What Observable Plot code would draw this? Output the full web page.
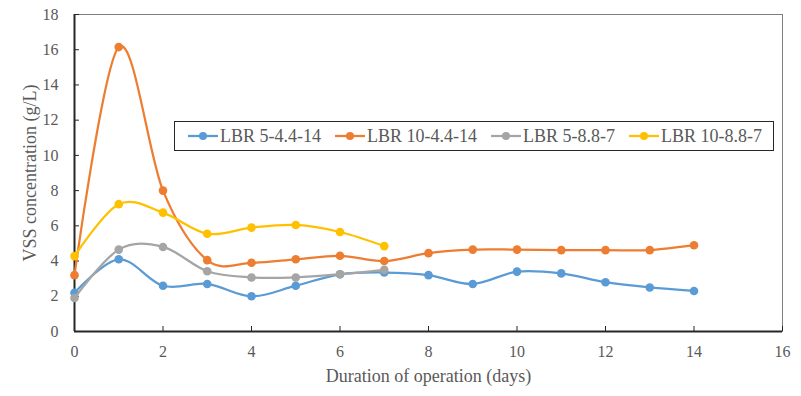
<!DOCTYPE html>
<html><head><meta charset="utf-8">
<script src="https://cdn.jsdelivr.net/npm/d3@7"></script>
<script src="https://cdn.jsdelivr.net/npm/@observablehq/plot@0.6"></script>
<style>
body{margin:0;background:#fff;}
#wrap{position:relative;width:801px;height:396px;}
#wrap svg text{font-family:"Liberation Serif","Times New Roman",serif;}
#legend{position:absolute;left:174px;top:121px;width:600px;height:30px;box-sizing:border-box;border:1.5px solid #262626;background:#fff;display:flex;align-items:center;font-family:"Liberation Serif","Times New Roman",serif;font-size:18px;color:#595959;padding-left:13px;white-space:nowrap;}
.item{display:flex;align-items:center;margin-right:14px;}
.item svg{margin-right:2px;}
</style></head>
<body><div id="wrap"><div id="legend"></div></div>
<script>
const seriesNames = ["LBR 5-4.4-14", "LBR 10-4.4-14", "LBR 5-8.8-7", "LBR 10-8.8-7"];
const seriesColors = ["#5B9BD5", "#ED7D31", "#A5A5A5", "#FFC000"];
const daysLong = [0,1,2,3,4,5,6,7,8,9,10,11,12,13,14];
const daysShort = [0,1,2,3,4,5,6,7];
const lbr5_44_14 = [2.2,4.1,2.6,2.7,2.0,2.6,3.25,3.35,3.2,2.7,3.4,3.3,2.8,2.5,2.3];
const lbr10_44_14 = [3.2,16.15,8.0,4.05,3.9,4.1,4.3,4.0,4.45,4.65,4.65,4.62,4.62,4.62,4.9];
const lbr5_88_7 = [1.9,4.65,4.8,3.42,3.07,3.07,3.25,3.5];
const lbr10_88_7 = [4.28,7.23,6.75,5.55,5.9,6.05,5.65,4.85];
const xTicks = [0,2,4,6,8,10,12,14,16];
const yTicks = [0,2,4,6,8,10,12,14,16,18];
const xTitle = "Duration of operation (days)";
const yTitle = "VSS concentration (g/L)";

const seriesValues = [lbr5_44_14, lbr10_44_14, lbr5_88_7, lbr10_88_7];
const seriesDays = [daysLong, daysLong, daysShort, daysShort];
const rows = [];
seriesNames.forEach((name, i) => {
  seriesValues[i].forEach((v, j) => rows.push({series: name, day: seriesDays[i][j], value: v}));
});

const seriesMarks = seriesNames.flatMap((name, i) => {
  const d = rows.filter(r => r.series === name);
  return [
    Plot.line(d, {x: "day", y: "value", stroke: seriesColors[i], strokeWidth: 2.25, curve: "cardinal"}),
    Plot.dot(d, {x: "day", y: "value", fill: seriesColors[i], r: 4.3})
  ];
});

const chart = Plot.plot({
  width: 801, height: 396,
  marginLeft: 74, marginRight: 19, marginTop: 14, marginBottom: 65,
  style: {fontFamily: "'Liberation Serif', 'Times New Roman', serif", fontSize: "16px", color: "#595959", background: "#fff"},
  x: {domain: [0, 16]},
  y: {domain: [0, 18]},
  marks: [
    Plot.frame({stroke: "#7f7f7f", strokeWidth: 1}),
    Plot.axisX({ticks: xTicks, tickSize: -5, tickPadding: 19, stroke: "#262626", fill: "#595959", label: null}),
    Plot.axisY({ticks: yTicks, tickSize: -5, tickPadding: 21, stroke: "#262626", fill: "#595959", label: null}),
    Plot.ruleY([0], {stroke: "#262626", strokeWidth: 2}),
    Plot.ruleX([0], {stroke: "#262626", strokeWidth: 2}),
    Plot.text([yTitle], {text: d => d, frameAnchor: "left", textAnchor: "middle", dx: -44, rotate: -90, fontSize: 18, fill: "#595959"}),
    Plot.text([xTitle], {text: d => d, frameAnchor: "bottom", dy: 50, fontSize: 18, fill: "#595959"}),
    ...seriesMarks
  ]
});
document.getElementById("wrap").prepend(chart);

const legend = document.getElementById("legend");
seriesNames.forEach((name, i) => {
  const item = document.createElement("div");
  item.className = "item";
  item.innerHTML = `<svg width="30" height="12"><line x1="0" y1="6" x2="30" y2="6" stroke="${seriesColors[i]}" stroke-width="2.25"/><circle cx="15" cy="6" r="4" fill="${seriesColors[i]}"/></svg><span>${name}</span>`;
  legend.appendChild(item);
});
</script>
</body></html>
